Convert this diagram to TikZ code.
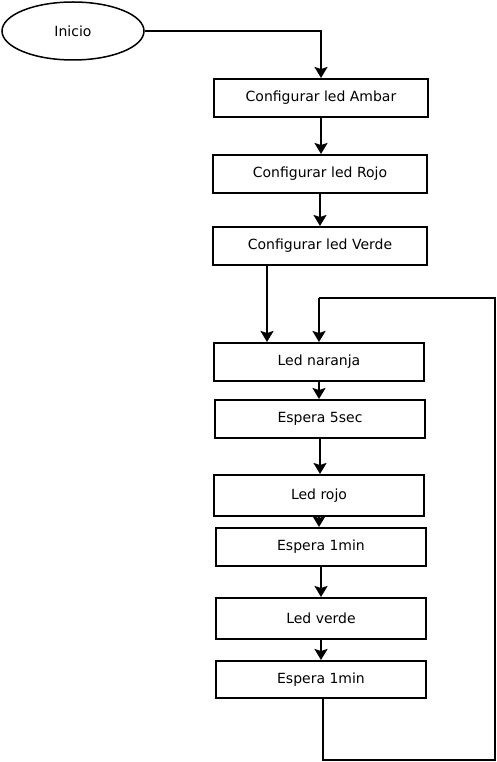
\documentclass[tikz,border=0pt]{standalone}
\usepackage{fontspec}
\setmainfont{DejaVu Sans}
\usetikzlibrary{shapes.geometric,arrows.meta}
\begin{document}
\begin{tikzpicture}[x=1pt,y=-1pt,
  txt/.style={font=\fontsize{14pt}{16pt}\selectfont},
  box/.style={draw,line width=2pt,rectangle,minimum height=38pt,txt,inner sep=0pt},
  arr/.style={line width=2pt,-{Stealth[length=11pt,width=13pt,inset=2pt]}},
  ln/.style={line width=2pt}]
\useasboundingbox (0,0) rectangle (497,762);
\node[draw,ellipse,line width=1.5pt,minimum width=142pt,minimum height=58pt,txt] (e) at (73,31) {Inicio};
\node[box,minimum width=214pt] (b1) at (321,98) {Configurar led Ambar};
\node[box,minimum width=214pt] (b2) at (320,174) {Configurar led Rojo};
\node[box,minimum width=214pt] (b3) at (320,246) {Configurar led Verde};
\node[box,minimum width=210pt] (b4) at (319,362) {Led naranja};
\node[box,minimum width=210pt] (b5) at (320,419) {Espera 5sec};
\node[box,minimum width=210pt,minimum height=41pt] (b6) at (319,495.5) {Led rojo};
\node[box,minimum width=210pt] (b7) at (321,547) {Espera 1min};
\node[box,minimum width=210pt,minimum height=41pt] (b8) at (321,618.5) {Led verde};
\node[box,minimum width=210pt,minimum height=37pt] (b9) at (321,679.5) {Espera 1min};
\coordinate (l0) at (323,698);
\coordinate (l1) at (323,760);
\coordinate (l2) at (495,298);
\coordinate (l3) at (319,298);
\coordinate (k3) at (267,265);
\draw[arr] (e.east) -| (b1.north);
\draw[arr] (b1.south) -- (b1.south |- b2.north);
\draw[arr] (b2.south) -- (b2.south |- b3.north);
\draw[arr] (k3) -- (k3 |- b4.north);
\draw[arr] (b4.south) -- (b4.south |- b5.north);
\draw[arr] (b5.south) -- (b5.south |- b6.north);
\draw[arr] (b6.south) -- (b6.south |- b7.north);
\draw[arr] (b7.south) -- (b7.south |- b8.north);
\draw[arr] (b8.south) -- (b8.south |- b9.north);
\draw[ln] (l0) -- (l1) -| (l2) -- (l3);
\draw[arr] (l3) -- (l3 |- b4.north);
\end{tikzpicture}
\end{document}
